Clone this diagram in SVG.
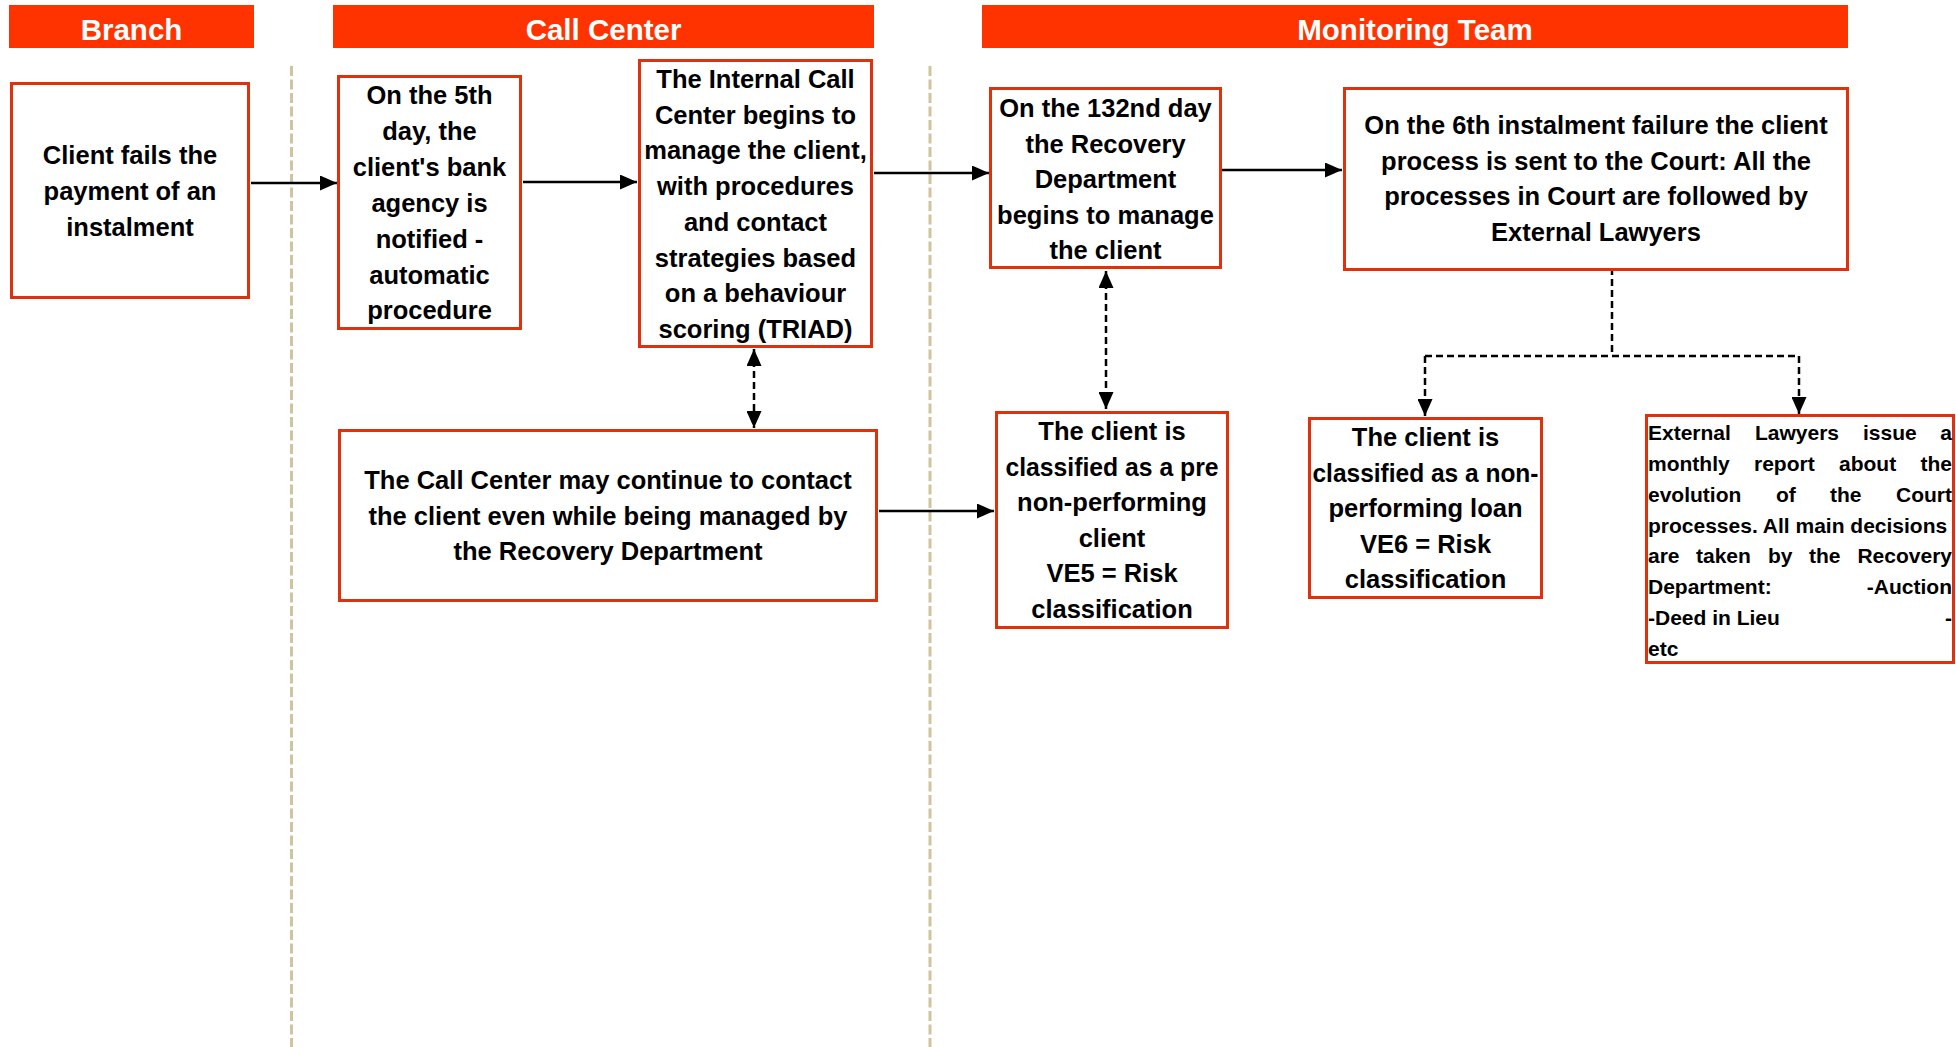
<svg xmlns="http://www.w3.org/2000/svg" width="1956" height="1047" viewBox="0 0 1956 1047">
<style>
.hdr{fill:#ff3300}
.htx{font-family:"Liberation Sans",Arial,sans-serif;font-weight:bold;font-size:29.5px;fill:#ffffff;text-anchor:middle}
.box{fill:#ffffff;stroke:#e0310e;stroke-width:3}
.tx{font-family:"Liberation Sans",Arial,sans-serif;font-weight:bold;font-size:25.5px;fill:#000000;text-anchor:middle}
.sm{font-family:"Liberation Sans",Arial,sans-serif;font-weight:bold;font-size:21px;fill:#000000}
.sme{text-anchor:end}
.sep{stroke:#cfc49c;stroke-width:3;stroke-dasharray:10 3.5;fill:none}
.ln{stroke:#000000;stroke-width:2.5;fill:none}
.dl{stroke:#000000;stroke-width:2.5;fill:none;stroke-dasharray:7 4}
</style>
<defs>
<marker id="ah" markerUnits="userSpaceOnUse" markerWidth="17" markerHeight="15" refX="17" refY="7.5" orient="auto">
<path d="M0,0 L17,7.5 L0,15 z" fill="#000000"/>
</marker>
<marker id="ahs" markerUnits="userSpaceOnUse" markerWidth="17" markerHeight="15" refX="17" refY="7.5" orient="auto-start-reverse">
<path d="M0,0 L17,7.5 L0,15 z" fill="#000000"/>
</marker>
</defs>

<g id="lanes">
<line class="sep" x1="291.5" y1="66" x2="291.5" y2="1047"/>
<line class="sep" x1="930" y1="66" x2="930" y2="1047"/>
</g>

<g id="headers">
<g id="hdr-branch"><rect class="hdr" x="9" y="5" width="245" height="43"/><text class="htx" x="131.5" y="39.5">Branch</text></g>
<g id="hdr-callcenter"><rect class="hdr" x="333" y="5" width="541" height="43"/><text class="htx" x="603.5" y="39.5">Call Center</text></g>
<g id="hdr-monitoring"><rect class="hdr" x="982" y="5" width="866" height="43"/><text class="htx" x="1415" y="39.5">Monitoring Team</text></g>
</g>

<g id="connectors">
<line class="ln" x1="251" y1="183" x2="337" y2="183" marker-end="url(#ah)"/>
<line class="ln" x1="523" y1="182" x2="637" y2="182" marker-end="url(#ah)"/>
<line class="ln" x1="874" y1="173" x2="989" y2="173" marker-end="url(#ah)"/>
<line class="ln" x1="1222" y1="170" x2="1342" y2="170" marker-end="url(#ah)"/>
<line class="ln" x1="879" y1="511" x2="994" y2="511" marker-end="url(#ah)"/>
<line class="dl" x1="754" y1="349" x2="754" y2="428" marker-start="url(#ahs)" marker-end="url(#ahs)"/>
<line class="dl" x1="1106" y1="271" x2="1106" y2="409" marker-start="url(#ahs)" marker-end="url(#ahs)"/>
<path class="dl" d="M1612,268 V356"/>
<path class="dl" d="M1425,356 H1799"/>
<path class="dl" d="M1425,356 V416" marker-end="url(#ah)"/>
<path class="dl" d="M1799,356 V414" marker-end="url(#ah)"/>
</g>

<g id="node-client-fails">
<rect class="box" x="11.5" y="83.5" width="237" height="214"/>
<text class="tx"><tspan x="130" y="163.5">Client fails the</tspan><tspan x="130" y="199.5">payment of an</tspan><tspan x="130" y="235.5">instalment</tspan></text>
</g>

<g id="node-5th-day">
<rect class="box" x="338.5" y="76.5" width="182" height="252"/>
<text class="tx"><tspan x="429.5" y="104">On the 5th</tspan><tspan x="429.5" y="140">day, the</tspan><tspan x="429.5" y="176">client's bank</tspan><tspan x="429.5" y="212">agency is</tspan><tspan x="429.5" y="248">notified -</tspan><tspan x="429.5" y="283.5">automatic</tspan><tspan x="429.5" y="319">procedure</tspan></text>
</g>

<g id="node-internal-call-center">
<rect class="box" x="639.5" y="60.5" width="232" height="286"/>
<text class="tx"><tspan x="755.5" y="88">The Internal Call</tspan><tspan x="755.5" y="123.7">Center begins to</tspan><tspan x="755.5" y="159.4">manage the client,</tspan><tspan x="755.5" y="195.1">with procedures</tspan><tspan x="755.5" y="230.8">and contact</tspan><tspan x="755.5" y="266.5">strategies based</tspan><tspan x="755.5" y="302.2">on a behaviour</tspan><tspan x="755.5" y="337.9">scoring (TRIAD)</tspan></text>
</g>

<g id="node-132nd-day">
<rect class="box" x="990.5" y="88.5" width="230" height="179"/>
<text class="tx"><tspan x="1105.5" y="117">On the 132nd day</tspan><tspan x="1105.5" y="152.5">the Recovery</tspan><tspan x="1105.5" y="188">Department</tspan><tspan x="1105.5" y="223.5">begins to manage</tspan><tspan x="1105.5" y="259">the client</tspan></text>
</g>

<g id="node-6th-instalment">
<rect class="box" x="1344.5" y="88.5" width="503" height="181"/>
<text class="tx"><tspan x="1596" y="134">On the 6th instalment failure the client</tspan><tspan x="1596" y="169.7">process is sent to the Court: All the</tspan><tspan x="1596" y="205.4">processes in Court are followed by</tspan><tspan x="1596" y="241.1">External Lawyers</tspan></text>
</g>

<g id="node-call-center-continue">
<rect class="box" x="339.5" y="430.5" width="537" height="170"/>
<text class="tx"><tspan x="608" y="489">The Call Center may continue to contact</tspan><tspan x="608" y="524.5">the client even while being managed by</tspan><tspan x="608" y="560">the Recovery Department</tspan></text>
</g>

<g id="node-pre-npl">
<rect class="box" x="996.5" y="412.5" width="231" height="215"/>
<text class="tx"><tspan x="1112" y="440">The client is</tspan><tspan x="1112" y="475.6" textLength="213" lengthAdjust="spacingAndGlyphs">classified as a pre</tspan><tspan x="1112" y="511.2">non-performing</tspan><tspan x="1112" y="546.8">client</tspan><tspan x="1112" y="582.4">VE5 = Risk</tspan><tspan x="1112" y="618">classification</tspan></text>
</g>

<g id="node-npl">
<rect class="box" x="1309.5" y="418.5" width="232" height="179"/>
<text class="tx"><tspan x="1425.5" y="446">The client is</tspan><tspan x="1425.5" y="481.5" textLength="226" lengthAdjust="spacingAndGlyphs">classified as a non-</tspan><tspan x="1425.5" y="517">performing loan</tspan><tspan x="1425.5" y="552.5">VE6 = Risk</tspan><tspan x="1425.5" y="588">classification</tspan></text>
</g>

<g id="node-external-lawyers">
<rect class="box" x="1646.5" y="415.5" width="307" height="247"/>
<text class="sm"><tspan x="1648" y="440">External</tspan><tspan x="1755" y="440">Lawyers</tspan><tspan x="1863" y="440">issue</tspan></text>
<text class="sm sme" x="1952" y="440">a</text>
<text class="sm"><tspan x="1648" y="470.5">monthly</tspan><tspan x="1754" y="470.5">report</tspan><tspan x="1839" y="470.5">about</tspan></text>
<text class="sm sme" x="1952" y="470.5">the</text>
<text class="sm"><tspan x="1648" y="502">evolution</tspan><tspan x="1776" y="502">of</tspan><tspan x="1830" y="502">the</tspan></text>
<text class="sm sme" x="1952" y="502">Court</text>
<text class="sm" x="1648" y="533">processes. All main decisions</text>
<text class="sm"><tspan x="1648" y="563">are</tspan><tspan x="1696" y="563">taken</tspan><tspan x="1768" y="563">by</tspan><tspan x="1809" y="563">the</tspan></text>
<text class="sm sme" x="1952" y="563">Recovery</text>
<text class="sm" x="1648" y="594">Department:</text>
<text class="sm sme" x="1952" y="594">-Auction</text>
<text class="sm" x="1648" y="625">-Deed in Lieu</text>
<text class="sm sme" x="1952" y="625">-</text>
<text class="sm" x="1648" y="655.5">etc</text>
</g>
</svg>
